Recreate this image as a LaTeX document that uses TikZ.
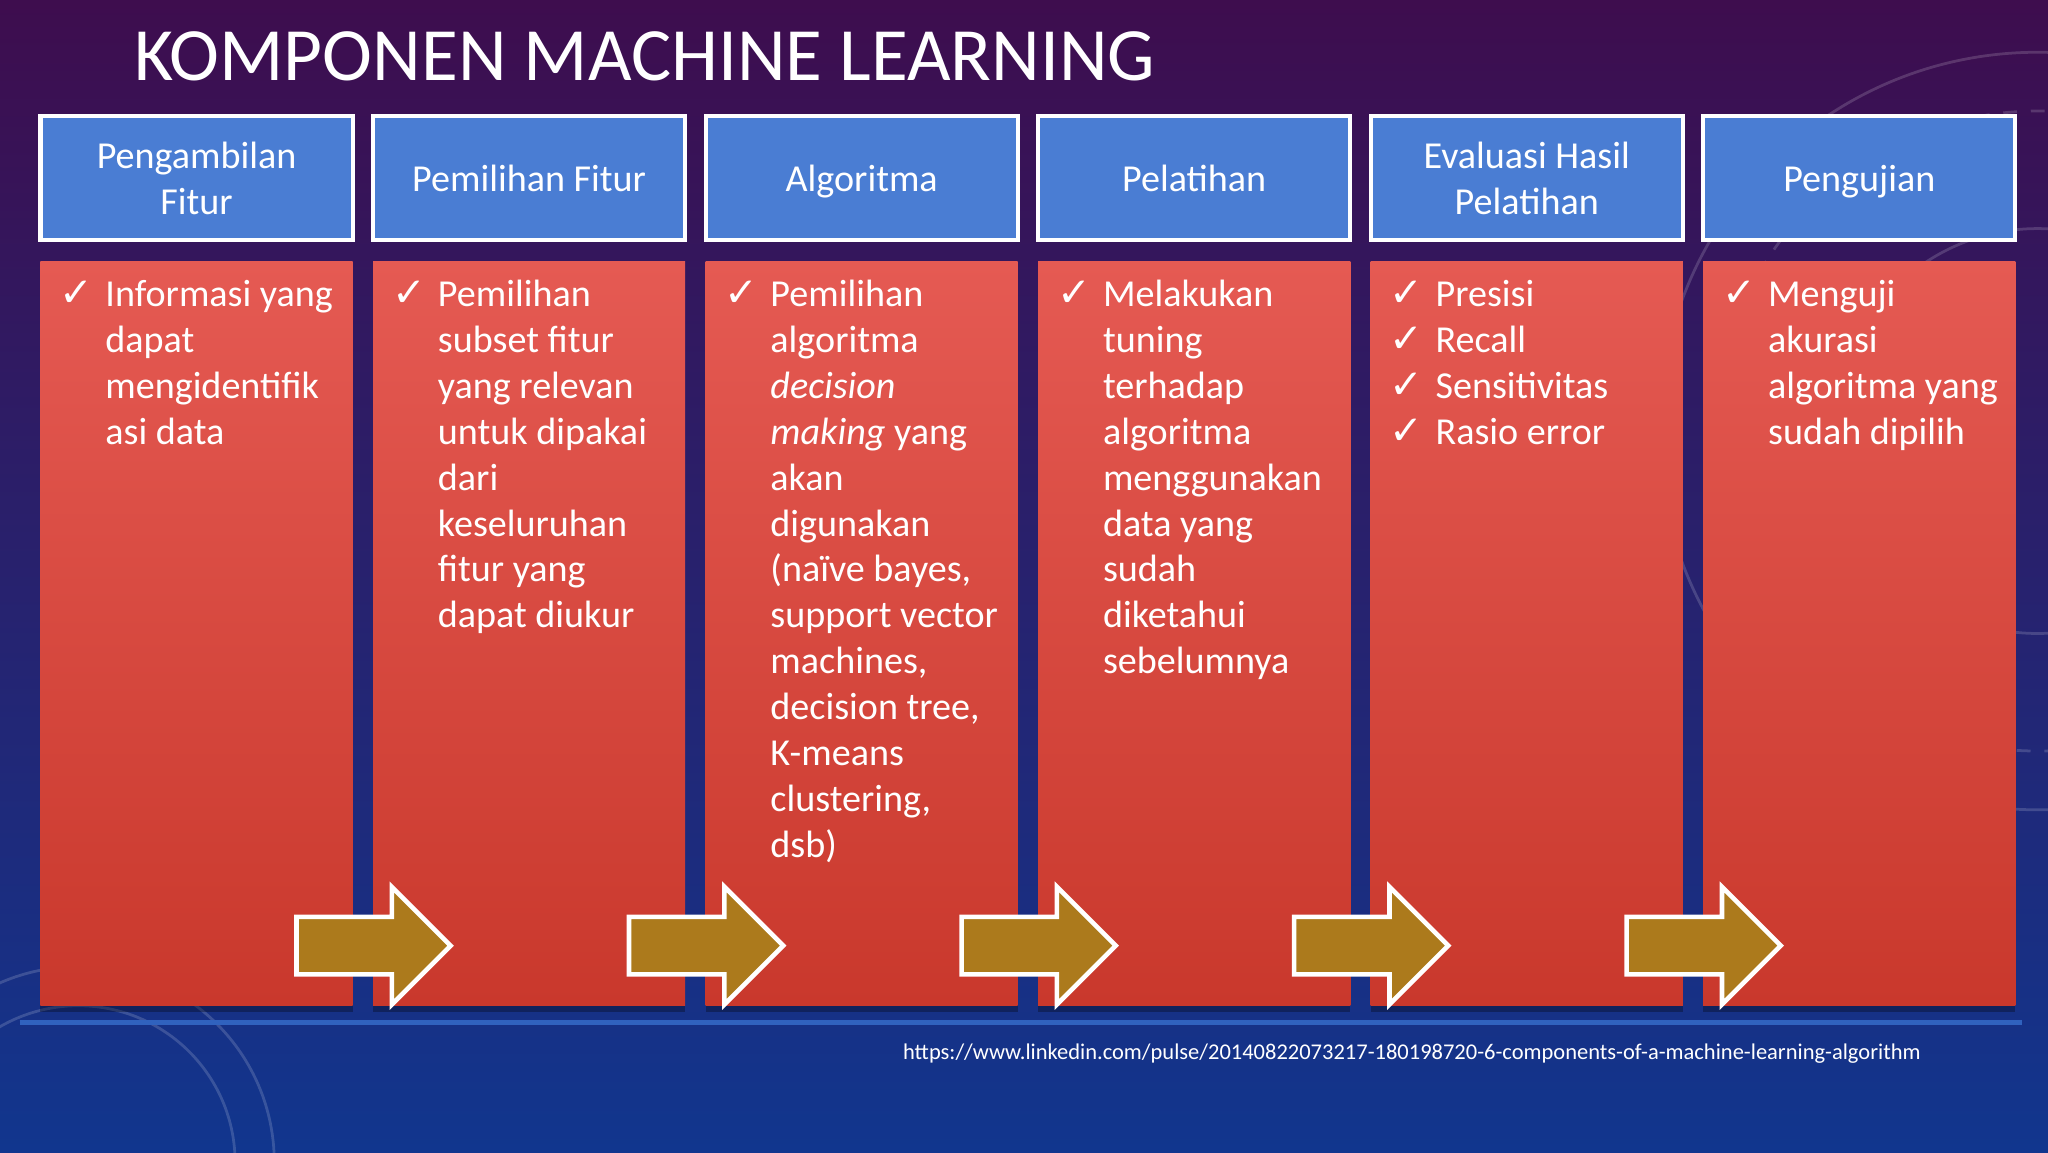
\documentclass[tikz,border=0pt]{standalone}
\usepackage{fontspec}
\setmainfont{Carlito}
\newfontfamily\simbol{DejaVu Sans}
\usepackage{tikz}
\usetikzlibrary{shapes, arrows.meta, positioning, shadows}
\definecolor{ungutua}{RGB}{62,13,78}
\definecolor{ungutengah}{RGB}{42,24,104}
\definecolor{birubawah}{RGB}{17,54,142}
\definecolor{birukotak}{RGB}{74,125,211}
\definecolor{merahatas}{RGB}{229,90,83}
\definecolor{merahbawah}{RGB}{201,56,44}
\definecolor{emas}{RGB}{172,122,28}
\definecolor{garisbiru}{RGB}{48,98,190}
\newcommand{\cek}{{\simbol\fontsize{8.8}{10}\selectfont ✓}}
\newcommand{\tegak}{\rule[-2.15pt]{0pt}{10pt}}
\newcommand{\isiteks}[1]{\begin{tabular}{@{}p{0.35cm}@{}p{1.95cm}@{}}#1\end{tabular}}

\begin{document}
\begin{tikzpicture}[
    kepala/.style={draw=white, line width=0.9pt, fill=birukotak, text=white,
        minimum width=2.39cm, minimum height=0.95cm, align=center, inner sep=0pt,
        font=\fontsize{8.3}{10}\selectfont},
    isi/.style={top color=merahatas, bottom color=merahbawah, draw=none,
        minimum width=2.39cm, minimum height=5.70cm, inner sep=0pt,
        drop shadow={fill=black, opacity=0.3, shadow xshift=0pt, shadow yshift=-0.05cm}},
    teks/.style={anchor=north west, inner sep=0pt, text=white,
        font=\fontsize{8.3}{10}\selectfont},
    panah/.style={draw=white, line width=1pt, fill=emas, line join=miter}
]
    \useasboundingbox (0,0) rectangle (15.68,8.82);
    % latar belakang
    \shade[top color=ungutua, middle color=ungutengah, bottom color=birubawah]
        (0,0) rectangle (15.68,8.82);
    \begin{scope}[white, opacity=0.16, line width=0.6pt]
        \clip (0,0) rectangle (15.68,8.82);
        \draw (15.60,5.52) circle (2.90);
        \draw[dashed] (15.60,5.52) circle (2.45);
        \draw (15.60,5.52) circle (1.55);
        \draw (0.60,-0.08) circle (1.20);
        \draw (0.60,-0.08) circle (1.50);
    \end{scope}

    % judul
    \node[anchor=base west, inner sep=0pt, text=white,
        font=\fontsize{16.4}{20}\selectfont] (judul) at (1.02,8.20)
        {KOMPONEN MACHINE LEARNING};

    % kotak kepala
    \node[kepala] (h1) at (1.505,7.455) {\tegak Pengambilan\\\tegak Fitur};
    \node[kepala] (h2) at (4.051,7.455) {\tegak Pemilihan Fitur};
    \node[kepala] (h3) at (6.597,7.455) {\tegak Algoritma};
    \node[kepala] (h4) at (9.143,7.455) {\tegak Pelatihan};
    \node[kepala] (h5) at (11.689,7.455) {\tegak Evaluasi Hasil\\\tegak Pelatihan};
    \node[kepala] (h6) at (14.235,7.455) {\tegak Pengujian};

    % kotak isi
    \foreach \i/\x in {1/1.505, 2/4.051, 3/6.597, 4/9.143, 5/11.689, 6/14.235}
        \node[isi] (c\i) at (\x,3.97) {};

    % teks isi
    \node[teks] (t1) at (0.45,6.726) {\isiteks{\cek & Informasi yang\newline dapat\newline
        mengidentifik\newline asi data}};
    \node[teks] (t2) at (2.996,6.726) {\isiteks{\cek & Pemilihan\newline subset fitur\newline
        yang relevan\newline untuk dipakai\newline dari\newline keseluruhan\newline
        fitur yang\newline dapat diukur}};
    \node[teks] (t3) at (5.542,6.726) {\isiteks{\cek & Pemilihan\newline algoritma\newline
        \textit{decision}\newline \textit{making} yang\newline akan\newline digunakan\newline
        (naïve bayes,\newline support vector\newline machines,\newline decision tree,\newline
        K-means\newline clustering,\newline dsb)}};
    \node[teks] (t4) at (8.088,6.726) {\isiteks{\cek & Melakukan\newline tuning\newline
        terhadap\newline algoritma\newline menggunakan\newline data yang\newline sudah\newline
        diketahui\newline sebelumnya}};
    \node[teks] (t5) at (10.634,6.726) {\isiteks{\cek & Presisi\\ \cek & Recall\\
        \cek & Sensitivitas\\ \cek & Rasio error}};
    \node[teks] (t6) at (13.180,6.726) {\isiteks{\cek & Menguji\newline akurasi\newline
        algoritma yang\newline sudah dipilih}};

    % panah antar kotak
    \foreach \x in {2.27, 4.816, 7.362, 9.908, 12.454}
        \draw[panah] (\x,1.80) -- ++(0.73,0) -- ++(0,0.23) -- ++(0.45,-0.45)
            -- ++(-0.45,-0.45) -- ++(0,0.23) -- ++(-0.73,0) -- cycle;

    % garis bawah dan sumber
    \coordinate (gkiri) at (0.15,0.99);
    \coordinate (gkanan) at (15.48,0.99);
    \draw[garisbiru, line width=1.1pt] (gkiri) -- (gkanan);
    \node[anchor=base, inner sep=0pt, text=white, font=\fontsize{4.9}{6}\selectfont]
        (sumber) at (10.81,0.71)
        {https://www.linkedin.com/pulse/20140822073217-180198720-6-components-of-a-machine-learning-algorithm};
\end{tikzpicture}
\end{document}
